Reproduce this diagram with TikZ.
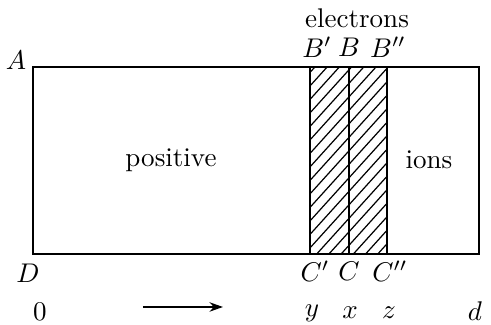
\documentclass[tikz,border=0pt]{standalone}
\usetikzlibrary{arrows.meta}
\begin{document}
\begin{tikzpicture}[x=0.013cm,y=-0.013cm]
  \tikzset{edge/.style={line width=0.7pt},hatch/.style={line width=0.45pt}}
  \useasboundingbox (0,0) rectangle (491,325);
  % plate corners and strip
  \coordinate (A) at (33,67);
  \coordinate (D) at (33,254);
  \coordinate (E) at (479,254);
  \coordinate (F) at (479,67);
  \coordinate (Bp) at (310,67);
  \coordinate (B) at (349,67);
  \coordinate (Bpp) at (387,67);
  \coordinate (Cp) at (310,254);
  \coordinate (C) at (349,254);
  \coordinate (Cpp) at (387,254);
  \begin{scope}
    \clip (Bp) rectangle (Cpp);
    \foreach \k in {0,...,23}
      \draw [hatch] (300,70+13.5*\k) -- ++(95,-105);
  \end{scope}
  \draw [edge] (A) -- (F) -- (E) -- (D) -- cycle;
  \draw [line width=0.55pt] (Bp) -- (Cp);
  \draw [line width=0.55pt] (B) -- (C);
  \draw [line width=0.55pt] (Bpp) -- (Cpp);
  \node (elec) at (357,18) {electrons};
  \node (lBp) at (317,47) {$B'$};
  \node (lB) at (349,47) {$B$};
  \node (lBpp) at (388,47) {$B''$};
  \node (lA) at (16,60) {$A$};
  \node (lD) at (28,273) {$D$};
  \node (lCp) at (315,271) {$C'$};
  \node (lC) at (349,271) {$C$};
  \node (lCpp) at (390,271) {$C''$};
  \node (pos) at (171,160) {positive};
  \node (ions) at (429,160) {ions};
  \node (zero) at (40,312) {0};
  \node (ly) at (312,313) {$y$};
  \node (lx) at (350,313) {$x$};
  \node (lz) at (389,313) {$z$};
  \node (ld) at (475,311) {$d$};
  \coordinate (s) at (143,307);
  \coordinate (t) at (223,307);
  \draw [-{Stealth[length=5pt,width=3.5pt]},semithick] (s) -- (t);
\end{tikzpicture}
\end{document}
